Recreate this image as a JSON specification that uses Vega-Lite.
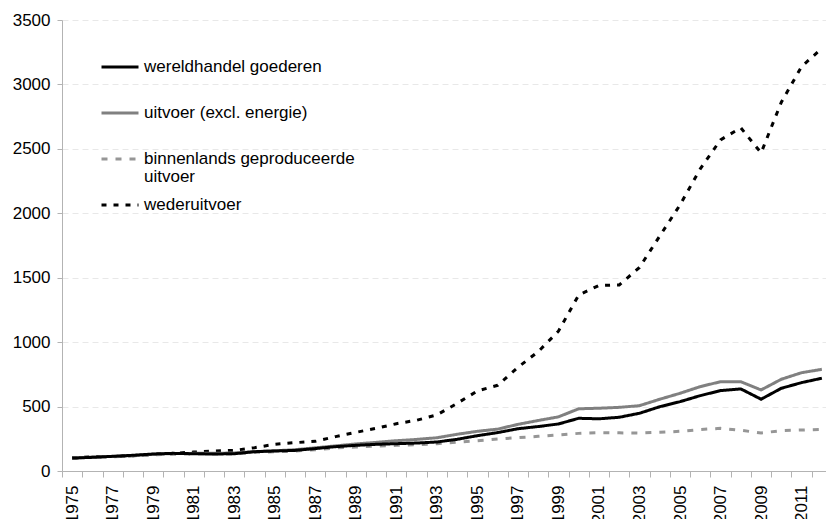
{
  "$schema": "https://vega.github.io/schema/vega-lite/v6.json",
  "autosize": "none",
  "width": 764,
  "height": 451,
  "padding": {"left": 62, "top": 20, "right": 0, "bottom": 48},
  "background": "white",
  "config": {
    "font": "Liberation Sans",
    "view": {"stroke": null},
    "style": {"guide-label": {"lineHeight": 18}}
  },
  "datasets": {
    "reeksen": [
      {"jaar": 1975, "w": 100, "u": 100, "b": 100, "r": 100},
      {"jaar": 1976, "w": 106, "u": 108, "b": 107, "r": 110},
      {"jaar": 1977, "w": 114, "u": 113, "b": 111, "r": 113},
      {"jaar": 1978, "w": 122, "u": 120, "b": 116, "r": 118},
      {"jaar": 1979, "w": 132, "u": 130, "b": 125, "r": 129},
      {"jaar": 1980, "w": 137, "u": 135, "b": 130, "r": 137},
      {"jaar": 1981, "w": 134, "u": 137, "b": 132, "r": 147},
      {"jaar": 1982, "w": 132, "u": 137, "b": 132, "r": 155},
      {"jaar": 1983, "w": 134, "u": 140, "b": 133, "r": 160},
      {"jaar": 1984, "w": 150, "u": 150, "b": 145, "r": 181},
      {"jaar": 1985, "w": 155, "u": 157, "b": 150, "r": 207},
      {"jaar": 1986, "w": 160, "u": 165, "b": 155, "r": 220},
      {"jaar": 1987, "w": 174, "u": 180, "b": 165, "r": 230},
      {"jaar": 1988, "w": 189, "u": 195, "b": 179, "r": 267},
      {"jaar": 1989, "w": 199, "u": 210, "b": 186, "r": 300},
      {"jaar": 1990, "w": 207, "u": 222, "b": 194, "r": 331},
      {"jaar": 1991, "w": 212, "u": 235, "b": 199, "r": 367},
      {"jaar": 1992, "w": 217, "u": 245, "b": 204, "r": 394},
      {"jaar": 1993, "w": 225, "u": 258, "b": 212, "r": 435},
      {"jaar": 1994, "w": 246, "u": 285, "b": 223, "r": 525},
      {"jaar": 1995, "w": 274, "u": 308, "b": 235, "r": 621},
      {"jaar": 1996, "w": 298, "u": 325, "b": 248, "r": 665},
      {"jaar": 1997, "w": 328, "u": 362, "b": 259, "r": 805},
      {"jaar": 1998, "w": 345, "u": 392, "b": 269, "r": 926},
      {"jaar": 1999, "w": 365, "u": 420, "b": 280, "r": 1085},
      {"jaar": 2000, "w": 409, "u": 483, "b": 292, "r": 1366},
      {"jaar": 2001, "w": 405, "u": 487, "b": 298, "r": 1440},
      {"jaar": 2002, "w": 417, "u": 494, "b": 296, "r": 1444},
      {"jaar": 2003, "w": 448, "u": 507, "b": 295, "r": 1580},
      {"jaar": 2004, "w": 499, "u": 557, "b": 300, "r": 1824},
      {"jaar": 2005, "w": 538, "u": 603, "b": 308, "r": 2065},
      {"jaar": 2006, "w": 585, "u": 655, "b": 322, "r": 2345},
      {"jaar": 2007, "w": 624, "u": 693, "b": 331, "r": 2570},
      {"jaar": 2008, "w": 637, "u": 693, "b": 316, "r": 2663},
      {"jaar": 2009, "w": 557, "u": 629, "b": 295, "r": 2469},
      {"jaar": 2010, "w": 642, "u": 712, "b": 313, "r": 2862},
      {"jaar": 2011, "w": 686, "u": 763, "b": 318, "r": 3139},
      {"jaar": 2012, "w": 720, "u": 789, "b": 323, "r": 3280}
    ]
  },
  "data": {"name": "reeksen"},
  "transform": [
    {"fold": ["r", "b", "u", "w"], "as": ["code", "waarde"]},
    {"lookup": "code", "from": {"data": {"values": [
      {"code": "w", "reeks": "wereldhandel goederen"},
      {"code": "u", "reeks": "uitvoer (excl. energie)"},
      {"code": "b", "reeks": "binnenlands geproduceerde uitvoer"},
      {"code": "r", "reeks": "wederuitvoer"}
    ]}, "key": "code", "fields": ["reeks"]}}
  ],
  "mark": {"type": "line", "strokeWidth": 3, "strokeCap": "butt", "strokeJoin": "miter"},
  "encoding": {
    "x": {
      "field": "jaar",
      "type": "ordinal",
      "bandPosition": 0.5,
      "scale": {"type": "band", "paddingInner": 0, "paddingOuter": 0, "range": [0, 770]},
      "axis": {
        "title": null,
        "labelAngle": -90,
        "labelExpr": "(+datum.value) % 2 == 1 ? datum.label : ''",
        "labelFontSize": 17,
        "labelColor": "#000000",
        "labelPadding": 8,
        "labelFlush": false,
        "labelOverlap": false,
        "tickBand": "extent",
        "tickSize": 6,
        "tickColor": "#b3b3b3",
        "domainColor": "#b3b3b3",
        "grid": false
      }
    },
    "y": {
      "field": "waarde",
      "type": "quantitative",
      "scale": {"domain": [0, 3500], "nice": false},
      "axis": {
        "title": null,
        "format": "d",
        "values": [0, 500, 1000, 1500, 2000, 2500, 3000, 3500],
        "labelFontSize": 17,
        "labelColor": "#000000",
        "labelPadding": 7,
        "tickSize": 5,
        "tickColor": "#b3b3b3",
        "domainColor": "#b3b3b3",
        "grid": true,
        "gridColor": "#e8e8e8",
        "gridDash": [6, 4],
        "gridWidth": 1
      }
    },
    "color": {
      "field": "reeks",
      "type": "nominal",
      "scale": {
        "domain": ["wereldhandel goederen", "uitvoer (excl. energie)", "binnenlands geproduceerde uitvoer", "wederuitvoer"],
        "range": ["#000000", "#808080", "#969696", "#000000"]
      },
      "legend": {
        "title": null,
        "orient": "none",
        "legendX": 38,
        "legendY": 27,
        "padding": 0,
        "gridAlign": "all",
        "symbolType": "stroke",
        "symbolSize": 1369,
        "symbolStrokeWidth": 3,
        "labelFontSize": 17,
        "labelColor": "#000000",
        "labelOffset": 4,
        "rowPadding": 0,
        "labelLimit": 400,
        "labelExpr": "datum.label == 'binnenlands geproduceerde uitvoer' ? ['binnenlands geproduceerde', 'uitvoer'] : datum.label"
      }
    },
    "strokeDash": {
      "field": "reeks",
      "type": "nominal",
      "scale": {
        "domain": ["wereldhandel goederen", "uitvoer (excl. energie)", "binnenlands geproduceerde uitvoer", "wederuitvoer"],
        "range": [[1, 0], [1, 0], [6, 8], [5, 7]]
      },
      "legend": {"title": null}
    },
    "order": {"field": "code", "sort": "ascending"}
  }
}
